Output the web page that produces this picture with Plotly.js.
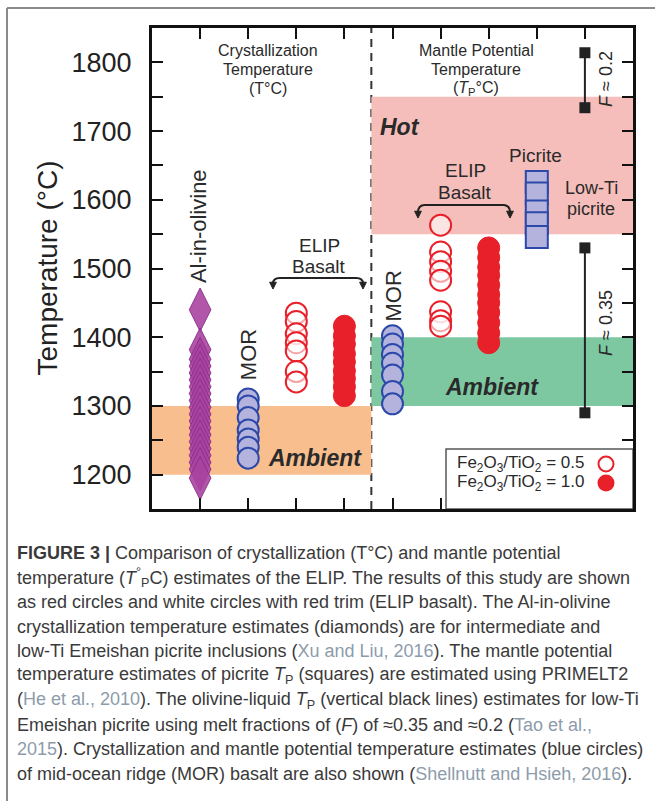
<!DOCTYPE html>
<html><head><meta charset="utf-8">
<script src="https://cdn.plot.ly/plotly-3.0.1.min.js"></script>
<style>html,body{margin:0;padding:0;background:#fff;} #chart{width:655px;height:801px;}</style>
</head><body><div id="chart"></div>
<script>
// ---- data (°C) ----
const yTickVals = [1200,1300,1400,1500,1600,1700,1800];
const yTickText = ['1200','1300','1400','1500','1600','1700','1800'];
const olivineT = [1440,1382,1368,1358,1348,1338,1328,1318,1308,1298,1288,1278,1268,1258,1248,1238,1228,1218,1208,1195];
const morCrystT = [1310,1300,1283,1265,1252,1240,1224];
const elipCryst05 = [1435,1423,1405,1392,1380,1350,1335];
const elipCryst10 = [1416,1402,1390,1376,1364,1351,1340,1328,1315];
const morMantleT = [1402,1390,1375,1362,1345,1321,1303];
const elipMantle05 = [1563,1524,1510,1496,1483,1437,1424,1416];
const elipMantle10 = [1530,1516,1502,1490,1476,1462,1450,1436,1421,1406,1392];
const picriteTp = [1626,1609,1583,1566,1546];
const fPoint2 = [1814,1734];
const fPoint35 = [1530,1290];
const ambientCryst = [1200,1300];
const ambientMantle = [1300,1400];
const hotMantle = [1550,1750];

// ---- layout constants ----
const col = {olivine:1, morC:2, e05C:3, e10C:4, morM:5, e05M:6, e10M:7, picrite:8, fTp:9};
const divideX = 4.56;
const W=655, H=801, L=152, R=22, T=28, B=292;
const PW = W-L-R, PH = H-T-B;
const px2x = p => (p-L)/PW*10;
const py2y = p => 1850 - (p-T)/PH*700;
const pxPaper = p => (p-L)/PW;
const pyPaper = p => (H-B-p)/PH;
const rep = (v, arr) => arr.map(() => v);

const FONT = 'Liberation Sans, Arial, Helvetica, sans-serif';
const RED = '#E8202A', BLUEL = '#B3B3DE', BLUE = '#2C48A8', PURP = 'rgba(168,68,160,0.9)';

const traces = [
  {x: rep(col.olivine, olivineT), y: olivineT, mode:'markers',
   marker:{symbol:'diamond-tall', size:31, color:PURP, line:{color:'rgba(140,45,140,0.9)', width:1}}},
  {x: rep(col.morC, morCrystT), y: morCrystT, mode:'markers',
   marker:{symbol:'circle', size:21, color:BLUEL, line:{color:BLUE, width:2}}},
  {x: rep(col.e05C, elipCryst05), y: elipCryst05, mode:'markers',
   marker:{symbol:'circle', size:21, color:'rgba(255,255,255,0.6)', line:{color:RED, width:2}}},
  {x: rep(col.e10C, elipCryst10), y: elipCryst10, mode:'markers',
   marker:{symbol:'circle', size:22, color:RED, line:{color:RED, width:1}}},
  {x: rep(col.morM, morMantleT), y: morMantleT, mode:'markers',
   marker:{symbol:'circle', size:21, color:BLUEL, line:{color:BLUE, width:2}}},
  {x: rep(col.e05M, elipMantle05), y: elipMantle05, mode:'markers',
   marker:{symbol:'circle', size:21, color:'rgba(255,255,255,0.6)', line:{color:RED, width:2}}},
  {x: rep(col.e10M, elipMantle10), y: elipMantle10, mode:'markers',
   marker:{symbol:'circle', size:22, color:RED, line:{color:RED, width:1}}},
  {x: rep(col.picrite, picriteTp), y: picriteTp, mode:'markers',
   marker:{symbol:'square', size:22, color:BLUEL, line:{color:BLUE, width:2}}},
  {x: rep(col.fTp, fPoint2), y: fPoint2, mode:'lines+markers',
   line:{color:'#222', width:2}, marker:{symbol:'square', size:11, color:'#222'}},
  {x: rep(col.fTp, fPoint35), y: fPoint35, mode:'lines+markers',
   line:{color:'#222', width:2}, marker:{symbol:'square', size:11, color:'#222'}}
];

function bracket(x0, x1, yTop, yTip){
  const dx = 0.14;
  return [
    {type:'path', xref:'x', yref:'y', line:{color:'#222', width:2},
     path:`M ${x0},${yTip+5} Q ${x0},${yTop} ${x0+dx},${yTop} L ${x1-dx},${yTop} Q ${x1},${yTop} ${x1},${yTip+5}`},
    {type:'path', xref:'x', yref:'y', line:{color:'#222', width:1}, fillcolor:'#222',
     path:`M ${x0-0.07},${yTip+7} L ${x0+0.07},${yTip+7} L ${x0},${yTip-3} Z`},
    {type:'path', xref:'x', yref:'y', line:{color:'#222', width:1}, fillcolor:'#222',
     path:`M ${x1-0.07},${yTip+7} L ${x1+0.07},${yTip+7} L ${x1},${yTip-3} Z`}
  ];
}

const legY1 = py2y(464), legY2 = py2y(483), legCx = px2x(606);
const shapes = [
  {type:'rect', layer:'below', xref:'x', yref:'y', x0:0, x1:divideX, y0:ambientCryst[0], y1:ambientCryst[1], fillcolor:'#F8BE8E', line:{width:0}},
  {type:'rect', layer:'below', xref:'x', yref:'y', x0:divideX, x1:10, y0:ambientMantle[0], y1:ambientMantle[1], fillcolor:'#7DC8A0', line:{width:0}},
  {type:'rect', layer:'below', xref:'x', yref:'y', x0:divideX, x1:10, y0:hotMantle[0], y1:hotMantle[1], fillcolor:'#F6BEBA', line:{width:0}},
  {type:'line', layer:'below', xref:'x', yref:'paper', x0:divideX, x1:divideX, y0:0, y1:1, line:{color:'#333', width:2, dash:'8px,6px'}},
  ...bracket(px2x(273), px2x(363), py2y(278), py2y(287)),
  ...bracket(px2x(418), px2x(510), py2y(205), py2y(216)),
  {type:'rect', xref:'x', yref:'y', x0:px2x(446), x1:10, y0:1150, y1:py2y(449), fillcolor:'#fff', line:{color:'#555', width:1.5}},
  {type:'circle', xref:'x', yref:'y', xsizemode:'pixel', ysizemode:'pixel', xanchor:legCx, yanchor:legY1, x0:-7.5, x1:7.5, y0:-7.5, y1:7.5, fillcolor:'#fff', line:{color:RED, width:2}},
  {type:'circle', xref:'x', yref:'y', xsizemode:'pixel', ysizemode:'pixel', xanchor:legCx, yanchor:legY2, x0:-8.5, x1:8.5, y0:-8.5, y1:8.5, fillcolor:RED, line:{color:RED, width:0}},
  // outer figure frame
  {type:'line', xref:'paper', yref:'paper', x0:pxPaper(7), x1:pxPaper(660), y0:pyPaper(8), y1:pyPaper(8), line:{color:'#8a8a8a', width:2}},
  {type:'line', xref:'paper', yref:'paper', x0:pxPaper(7), x1:pxPaper(7), y0:pyPaper(8), y1:pyPaper(810), line:{color:'#8a8a8a', width:2}}
];

function txt(x, y, text, size, extra){
  return Object.assign({x, y, xref:'x', yref:'y', text, showarrow:false, font:{size, color:'#2a2a2a'}}, extra||{});
}
const annotations = [
  txt(px2x(268), py2y(50), 'Crystallization', 16),
  txt(px2x(268), py2y(69), 'Temperature', 16),
  txt(px2x(268), py2y(88), '(T°C)', 16),
  txt(px2x(476), py2y(50), 'Mantle Potential', 16),
  txt(px2x(476), py2y(69), 'Temperature', 16),
  txt(px2x(476), py2y(88), '(<i>T</i><sub>P</sub>°C)', 16),
  txt(px2x(400), py2y(127), '<b><i>Hot</i></b>', 23),
  txt(px2x(315), py2y(458), '<b><i>Ambient</i></b>', 23),
  txt(px2x(492), py2y(387), '<b><i>Ambient</i></b>', 23),
  txt(col.olivine, py2y(226), 'Al-in-olivine', 22, {textangle:-90, xshift:-2}),
  txt(col.morC, py2y(355), 'MOR', 22, {textangle:-90}),
  txt(col.morM, py2y(296), 'MOR', 22, {textangle:-90}),
  txt(px2x(319), py2y(245), 'ELIP', 19),
  txt(px2x(319), py2y(266), 'Basalt', 19),
  txt(px2x(465), py2y(170), 'ELIP', 19),
  txt(px2x(465), py2y(192), 'Basalt', 19),
  txt(px2x(535), py2y(155), 'Picrite', 19),
  txt(px2x(591), py2y(188), 'Low-Ti', 18),
  txt(px2x(591), py2y(209), 'picrite', 18),
  txt(px2x(606), py2y(79), '<i>F</i> ≈ 0.2', 18, {textangle:-90}),
  txt(px2x(606), py2y(323), '<i>F</i> ≈ 0.35', 18, {textangle:-90}),
  txt(px2x(455), legY1, 'Fe<sub>2</sub>O<sub>3</sub>/TiO<sub>2</sub> = 0.5', 17, {xanchor:'left'}),
  txt(px2x(455), legY2, 'Fe<sub>2</sub>O<sub>3</sub>/TiO<sub>2</sub> = 1.0', 17, {xanchor:'left'}),
  {xref:'paper', yref:'paper', x:pxPaper(47), y:0.5, xanchor:'center', yanchor:'middle', text:'Temperature (°C)', textangle:-90, showarrow:false, font:{size:28, color:'#222'}}
];

const cite = s => `<span style="color:#8d9cab">${s}</span>`;
const caption = [
  '<b>FIGURE 3 |</b> Comparison of crystallization (T°C) and mantle potential',
  'temperature (<i>T</i><sup>°</sup><sub>P</sub>C) estimates of the ELIP. The results of this study are shown',
  'as red circles and white circles with red trim (ELIP basalt). The Al-in-olivine',
  'crystallization temperature estimates (diamonds) are for intermediate and',
  'low-Ti Emeishan picrite inclusions (' + cite('Xu and Liu, 2016') + '). The mantle potential',
  'temperature estimates of picrite <i>T</i><sub>P</sub> (squares) are estimated using PRIMELT2',
  '(' + cite('He et al., 2010') + '). The olivine-liquid <i>T</i><sub>P</sub> (vertical black lines) estimates for low-Ti',
  'Emeishan picrite using melt fractions of (<i>F</i>) of ≈0.35 and ≈0.2 (' + cite('Tao et al.,'),
  cite('2015') + '). Crystallization and mantle potential temperature estimates (blue circles)',
  'of mid-ocean ridge (MOR) basalt are also shown (' + cite('Shellnutt and Hsieh, 2016') + ').'
];
const capY0 = 553, capDy = 24.5;
caption.forEach((line, i) => {
  annotations.push({xref:'paper', yref:'paper', x:pxPaper(15), y:pyPaper(capY0 + i*capDy),
    xanchor:'left', yanchor:'middle', align:'left', showarrow:false, text:line,
    font:{size:18, color:'#3a3a3a', family:FONT}});
});

const layout = {
  width:W, height:H, margin:{l:L, r:R, t:T, b:B, pad:0},
  paper_bgcolor:'#fff', plot_bgcolor:'#fff', showlegend:false,
  font:{family:FONT, color:'#222'},
  xaxis:{range:[0,10], showgrid:false, zeroline:false, showline:true, linewidth:3, linecolor:'#111',
    mirror:'ticks', ticks:'inside', ticklen:11, tickwidth:2, tickcolor:'#111',
    tickvals:[1,2,3,4,5,6,7,8,9], showticklabels:false, fixedrange:true},
  yaxis:{range:[1150,1850], showgrid:false, zeroline:false, showline:true, linewidth:3, linecolor:'#111',
    mirror:'ticks', ticks:'inside', ticklen:11, tickwidth:2, tickcolor:'#111',
    tickvals:yTickVals, ticktext:yTickText, tickfont:{size:27, color:'#222'}, ticklabelstandoff:12,
    minor:{tickvals:[1250,1350,1450,1550,1650,1750], ticks:'inside', ticklen:11, tickwidth:2, tickcolor:'#111', showgrid:false},
    fixedrange:true},
  shapes, annotations
};
Plotly.newPlot('chart', traces, layout, {displayModeBar:false, staticPlot:true});
</script></body></html>
